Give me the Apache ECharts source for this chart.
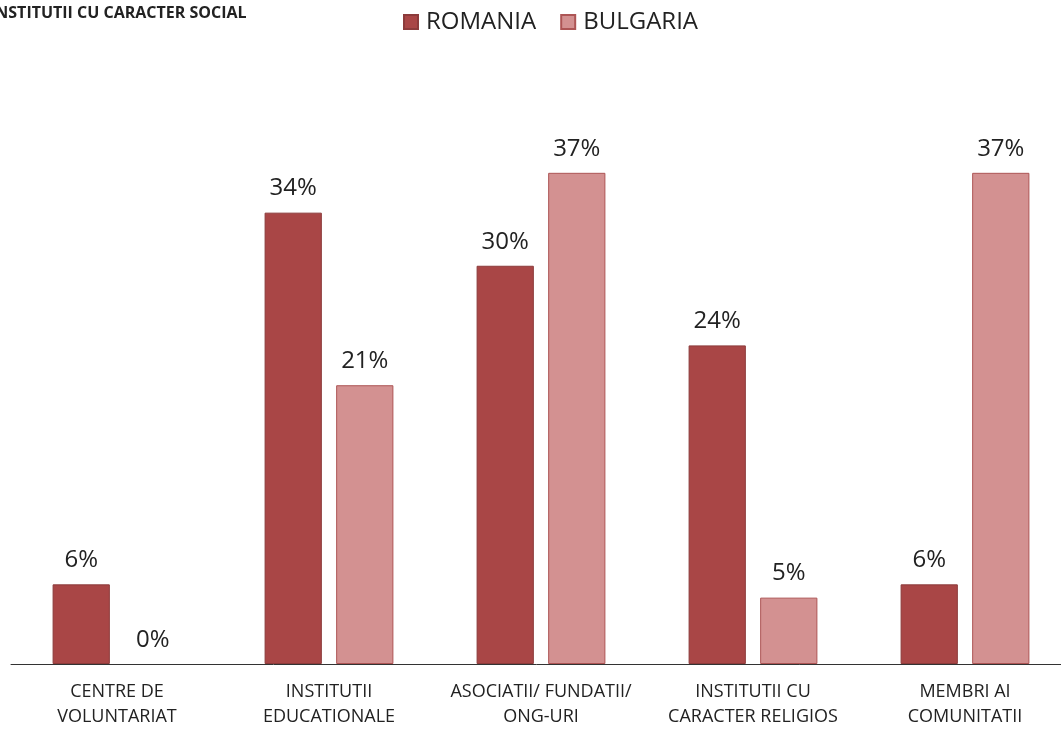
<!DOCTYPE html>
<html>
<head>
<meta charset="utf-8">
<script src="https://cdn.jsdelivr.net/npm/echarts@6/dist/echarts.min.js"></script>
<style>
  html, body { margin: 0; padding: 0; background: #fff; }
  #chart { width: 1061px; height: 729px; }
</style>
</head>
<body>
<div id="chart"></div>
<script>
// categorii si valori (%)
var categories = ['CENTRE DE\nVOLUNTARIAT', 'INSTITUTII\nEDUCATIONALE', 'ASOCIATII/ FUNDATII/\nONG-URI', 'INSTITUTII CU\nCARACTER RELIGIOS', 'MEMBRI AI\nCOMUNITATII'];
var romania = [6, 34, 30, 24, 6];
var bulgaria = [0, 21, 37, 5, 37];

var chart = echarts.init(document.getElementById('chart'));
var font = '"Open Sans", "Noto Sans", sans-serif';

var labelStyle = {
    show: true,
    position: 'top',
    distance: 12,
    formatter: '{c}%',
    color: '#222',
    fontSize: 24,
    fontFamily: font
};

// bara de 0 nu are contur
function noBorderZero(arr) {
    return arr.map(function (v) {
        return v === 0 ? { value: v, itemStyle: { borderWidth: 0 } } : v;
    });
}

var option = {
    title: {
        text: 'INSTITUTII CU CARACTER SOCIAL',
        left: -15,
        top: 0,
        textStyle: { fontSize: 16, fontWeight: 'bold', color: '#222', fontFamily: font }
    },
    legend: {
        top: 5,
        left: 398,
        itemWidth: 14,
        itemHeight: 14,
        itemGap: 24,
        icon: 'rect',
        textStyle: { fontSize: 24, color: '#222', fontFamily: font, padding: [0, 0, 0, 3] },
        data: ['ROMANIA', 'BULGARIA']
    },
    grid: { left: 11, width: 1060, top: 133, bottom: 65, containLabel: false, outerBoundsMode: 'none' },
    xAxis: {
        type: 'category',
        data: categories,
        axisLine: { lineStyle: { color: '#333', width: 1 } },
        axisTick: { show: false },
        axisLabel: { fontSize: 18, color: '#222', fontFamily: font, lineHeight: 25, margin: 15, interval: 0 }
    },
    yAxis: {
        type: 'value',
        min: 0,
        max: 40,
        show: false,
        splitLine: { show: false }
    },
    series: [
        {
            name: 'ROMANIA',
            type: 'bar',
            data: noBorderZero(romania),
            barWidth: '27%',
            barGap: '25%',
            itemStyle: { color: '#A94646', borderColor: '#8C3B3B', borderWidth: 1 },
            label: labelStyle
        },
        {
            name: 'BULGARIA',
            type: 'bar',
            data: noBorderZero(bulgaria),
            barWidth: '27%',
            itemStyle: { color: '#D39191', borderColor: '#AD5555', borderWidth: 1 },
            label: labelStyle
        }
    ]
};

chart.setOption(option);
</script>
</body>
</html>
